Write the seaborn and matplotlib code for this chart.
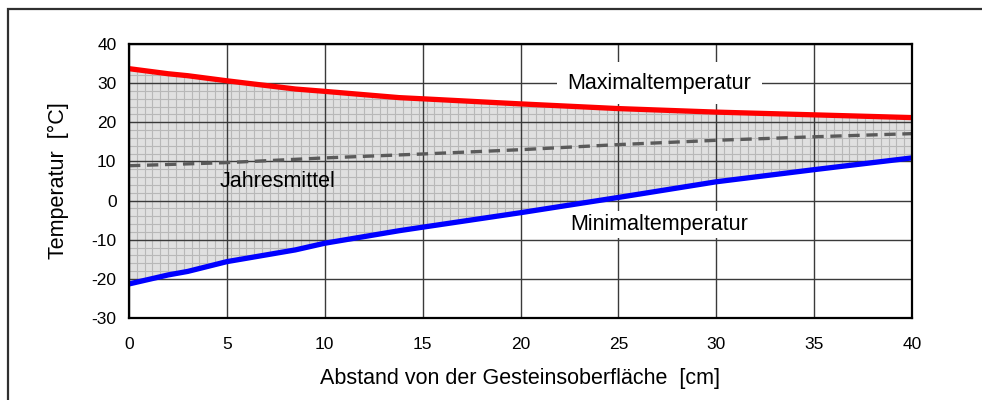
import matplotlib
matplotlib.use("Agg")
import matplotlib.pyplot as plt
import matplotlib.patches as mpatches
import numpy as np
import pandas as pd
import seaborn as sns

# data
dist = [0, 2, 3, 5, 8.5, 10, 13.8, 15, 20, 25, 30, 35, 40]
t_max = [33.7, 32.4, 31.9, 30.6, 28.5, 27.9, 26.3, 26.0, 24.7, 23.5, 22.6, 21.9, 21.2]
t_min = [-21.3, -19.0, -18.1, -15.6, -12.6, -10.9, -7.7, -6.8, -3.1, 0.8, 4.8, 7.9, 10.9]
dist_mean = [0, 5, 10, 15, 20, 25, 30, 35, 40]
t_mean = [8.9, 9.7, 10.9, 11.9, 13.0, 14.3, 15.4, 16.3, 17.1]

x_ticks = [0, 5, 10, 15, 20, 25, 30, 35, 40]
y_ticks = [-30, -20, -10, 0, 10, 20, 30, 40]


def main():
    sns.set_style("white")
    plt.rcParams['font.family'] = ['Liberation Sans', 'DejaVu Sans']
    plt.rcParams['axes.unicode_minus'] = False
    plt.rcParams['text.color'] = 'black'
    plt.rcParams['axes.labelcolor'] = 'black'

    fig = plt.figure(figsize=(9.82, 4.0), dpi=100)
    ax = fig.add_axes([129 / 982, 1 - 318 / 400, (912 - 129) / 982, (318 - 44) / 400])

    df = pd.DataFrame({"Abstand": dist, "Max": t_max, "Min": t_min})
    df_mean = pd.DataFrame({"Abstand": dist_mean, "Mittel": t_mean})

    # shaded range with a fine grid inside
    poly = ax.fill_between(df["Abstand"], df["Min"], df["Max"], color="#e0e0e0", lw=0, zorder=1)
    clip = poly.get_paths()[0]
    for xv in np.arange(0, 40.01, 0.4):
        ln, = ax.plot([xv, xv], [-30, 40], color="#b8b8b8", lw=0.8, zorder=2)
        ln.set_clip_path(clip, ax.transData)
    for yv in np.arange(-30, 40.01, 2):
        ln, = ax.plot([0, 40], [yv, yv], color="#b8b8b8", lw=0.8, zorder=2)
        ln.set_clip_path(clip, ax.transData)

    # major grid
    for xv in x_ticks:
        ax.axvline(xv, color="#3a3a3a", lw=1.0, zorder=3)
    for yv in y_ticks:
        ax.axhline(yv, color="#3a3a3a", lw=1.0, zorder=3)

    sns.lineplot(x="Abstand", y="Max", data=df, color="#ff0000", lw=3.8, ax=ax, zorder=8)
    sns.lineplot(x="Abstand", y="Min", data=df, color="#0000ff", lw=3.8, ax=ax, zorder=8)
    sns.lineplot(x="Abstand", y="Mittel", data=df_mean, color="#5a5a5a", lw=2.4, ax=ax,
                 zorder=5, dashes=False, linestyle=(0, (3.4, 2.0)))

    ax.set_xlim(0, 40)
    ax.set_ylim(-30, 40)
    ax.set_xticks(x_ticks)
    ax.set_yticks(y_ticks)
    ax.tick_params(axis="both", which="major", direction="out", length=6, width=1,
                   labelsize=12.5, color="black", labelcolor="black")
    ax.tick_params(axis="x", pad=8)
    ax.tick_params(axis="y", pad=3)
    for s in ax.spines.values():
        s.set_color("black")
        s.set_linewidth(1.6)
        s.set_zorder(9)

    ax.set_xlabel("Abstand von der Gesteinsoberfläche  [cm]", fontsize=15.5, labelpad=11)
    ax.set_ylabel("Temperatur  [°C]", fontsize=15.5, labelpad=16)

    ax.text(27.1, 30, "Maximaltemperatur", fontsize=15.5, ha="center", va="center", zorder=7,
            bbox=dict(boxstyle="square,pad=0.5", fc="white", ec="none"))
    ax.text(27.1, -6.1, "Minimaltemperatur", fontsize=15.5, ha="center", va="center", zorder=7,
            bbox=dict(boxstyle="square,pad=0.12", fc="white", ec="none"))
    ax.text(7.6, 4.9, "Jahresmittel", fontsize=15.5, ha="center", va="center", zorder=7)

    # outer frame of the figure
    fig.patches.append(mpatches.Rectangle((8 / 982, -0.1), 1.2, 1.1 - 9 / 400,
                                          transform=fig.transFigure, fill=False,
                                          ec="#303030", lw=1.6))

    plt.savefig("out.png", dpi=100)
    plt.close()


if __name__ == "__main__":
    main()
